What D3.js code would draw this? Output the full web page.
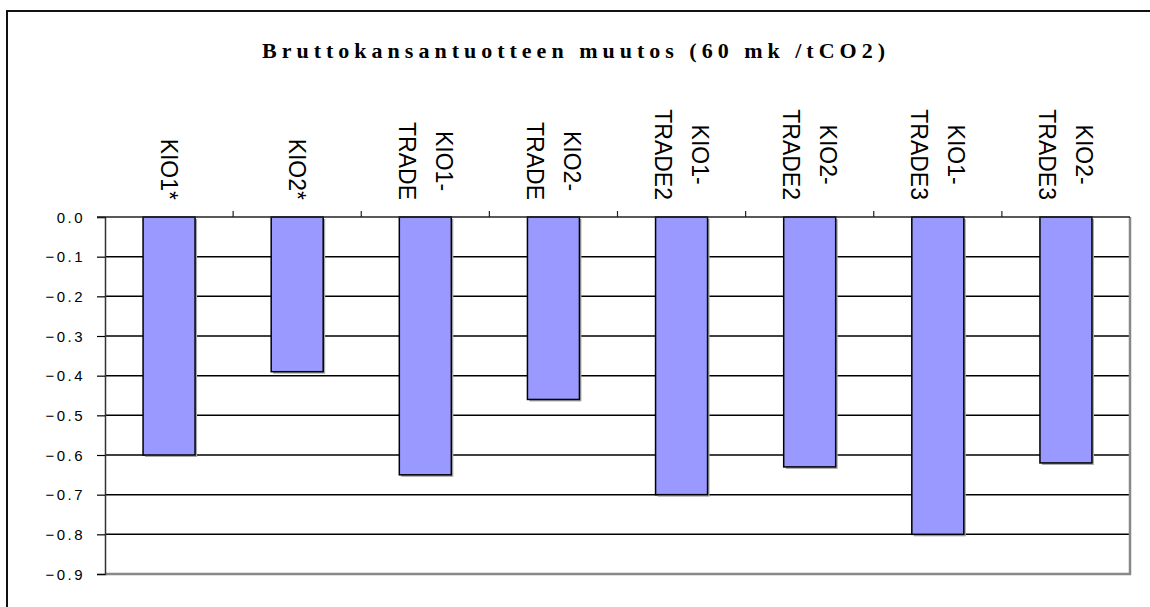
<!doctype html>
<html lang="fi">
<head>
  <meta charset="utf-8">
  <title>Bruttokansantuotteen muutos</title>
  <style>
    body { margin: 0; background: #fff; }
    svg { display: block; }
    .grid line { stroke: #000; stroke-width: 1.5; }
    .bar { fill: #9999ff; stroke: #000; stroke-width: 1.5; }
    .shadow { fill: #a8a8a8; }
    .ylab { font-family: "Liberation Sans", Arial, sans-serif; font-size: 15px; letter-spacing: 2.5px; }
    .xlab { font-family: "Liberation Sans", Arial, sans-serif; font-size: 23px; }
    .title { font-family: "Liberation Serif", "Times New Roman", serif; font-weight: bold; font-size: 22px; }
  </style>
</head>
<body>
<script src="https://cdn.jsdelivr.net/npm/d3@7"></script>
<script>
(function() {

var categories = ["KIO1*", "KIO2*", "KIO1-TRADE", "KIO2-TRADE", "KIO1-TRADE2", "KIO2-TRADE2", "KIO1-TRADE3", "KIO2-TRADE3"];
var values = [-0.60, -0.39, -0.65, -0.46, -0.70, -0.63, -0.80, -0.62];
var yTicks = [0, -0.1, -0.2, -0.3, -0.4, -0.5, -0.6, -0.7, -0.8, -0.9];
var title = "Bruttokansantuotteen muutos (60 mk /tCO2)";

var width = 1150, height = 607;
var left = 105, right = 1130, top = 217, bottom = 574;

var svg = d3.select("body").append("svg")
    .attr("width", width)
    .attr("height", height);

// outer chart frame (bottom/right run off the picture)
svg.append("path")
    .attr("d", "M7," + (height + 5) + "V11H" + (width + 5))
    .attr("fill", "none")
    .attr("stroke", "#111")
    .attr("stroke-width", 2);

svg.append("text")
    .attr("class", "title")
    .attr("x", 262)
    .attr("y", 58)
    .attr("textLength", 623)
    .attr("lengthAdjust", "spacing")
    .text(title);

var x = d3.scaleBand().domain(categories).range([left, right]).paddingInner(0).paddingOuter(0);
var y = d3.scaleLinear().domain([0, -0.9]).range([top, bottom]);

// gridlines
svg.append("g").attr("class", "grid")
  .selectAll("line").data(yTicks.slice(1, -1)).enter().append("line")
    .attr("x1", left).attr("x2", right)
    .attr("y1", function(d) { return y(d); })
    .attr("y2", function(d) { return y(d); });

// plot area border, right and bottom in grey
svg.append("path")
    .attr("d", "M" + right + "," + top + "V" + bottom + "H" + left)
    .attr("fill", "none")
    .attr("stroke", "#888")
    .attr("stroke-width", 2.5);

// y axis
var yAxis = svg.append("g")
    .attr("transform", "translate(" + left + ",0)")
    .call(d3.axisLeft(y).tickValues(yTicks).tickSize(8).tickFormat(d3.format(".1f")));
yAxis.select(".domain").attr("stroke", "#333").attr("stroke-width", 1.5);
yAxis.selectAll(".tick line").attr("stroke", "#000").attr("stroke-width", 1.2);
yAxis.selectAll(".tick text")
    .attr("class", "ylab")
    .attr("x", -20)
    .attr("dy", "0.35em")
    .attr("fill", "#000")
    .attr("font-family", null).attr("font-size", null);

// bars (shadow then bar)
var bw = 52;
var bars = svg.append("g");
bars.selectAll(".shadow").data(values).enter().append("rect")
    .attr("class", "shadow")
    .attr("x", function(d, i) { return x(categories[i]) + x.bandwidth() / 2 - bw / 2 + 2; })
    .attr("y", function(d) { return y(0) + 2; })
    .attr("width", bw)
    .attr("height", function(d) { return y(d) - y(0); });
bars.selectAll(".bar").data(values).enter().append("rect")
    .attr("class", "bar")
    .attr("x", function(d, i) { return x(categories[i]) + x.bandwidth() / 2 - bw / 2; })
    .attr("y", function(d) { return y(0); })
    .attr("width", bw)
    .attr("height", function(d) { return y(d) - y(0); });

// x axis line at zero with upward ticks at category boundaries
var xAxis = svg.append("g")
    .attr("transform", "translate(0," + y(0) + ")");
xAxis.append("line")
    .attr("x1", left - 8).attr("x2", right)
    .attr("stroke", "#222").attr("stroke-width", 1.5);
xAxis.selectAll(".xt").data(categories.slice(1)).enter().append("line")
    .attr("x1", function(d) { return x(d); })
    .attr("x2", function(d) { return x(d); })
    .attr("y1", 0).attr("y2", -6)
    .attr("stroke", "#222").attr("stroke-width", 1.2);

// category labels, rotated, reading downward
var lineGap = 37, labelEnd = 200;
var labs = svg.append("g").selectAll("g").data(categories).enter().append("g")
    .attr("transform", function(d) { return "translate(" + (x(d) + x.bandwidth() / 2) + "," + labelEnd + ") rotate(90)"; });
labs.each(function(d) {
  var g = d3.select(this);
  var lines = d.indexOf("-") >= 0 ? [d.slice(0, d.indexOf("-") + 1), d.slice(d.indexOf("-") + 1)] : [d];
  var t = g.append("text").attr("class", "xlab").attr("text-anchor", "middle");
  lines.forEach(function(s, i) {
    var off = (i - (lines.length - 1) / 2) * lineGap;
    t.append("tspan").attr("y", off).attr("dy", "0.36em").text(s);
  });
  var maxLen = 0;
  t.selectAll("tspan").each(function() { maxLen = Math.max(maxLen, this.getComputedTextLength()); });
  t.selectAll("tspan").attr("x", -maxLen / 2);
});

})();
</script>
</body>
</html>
